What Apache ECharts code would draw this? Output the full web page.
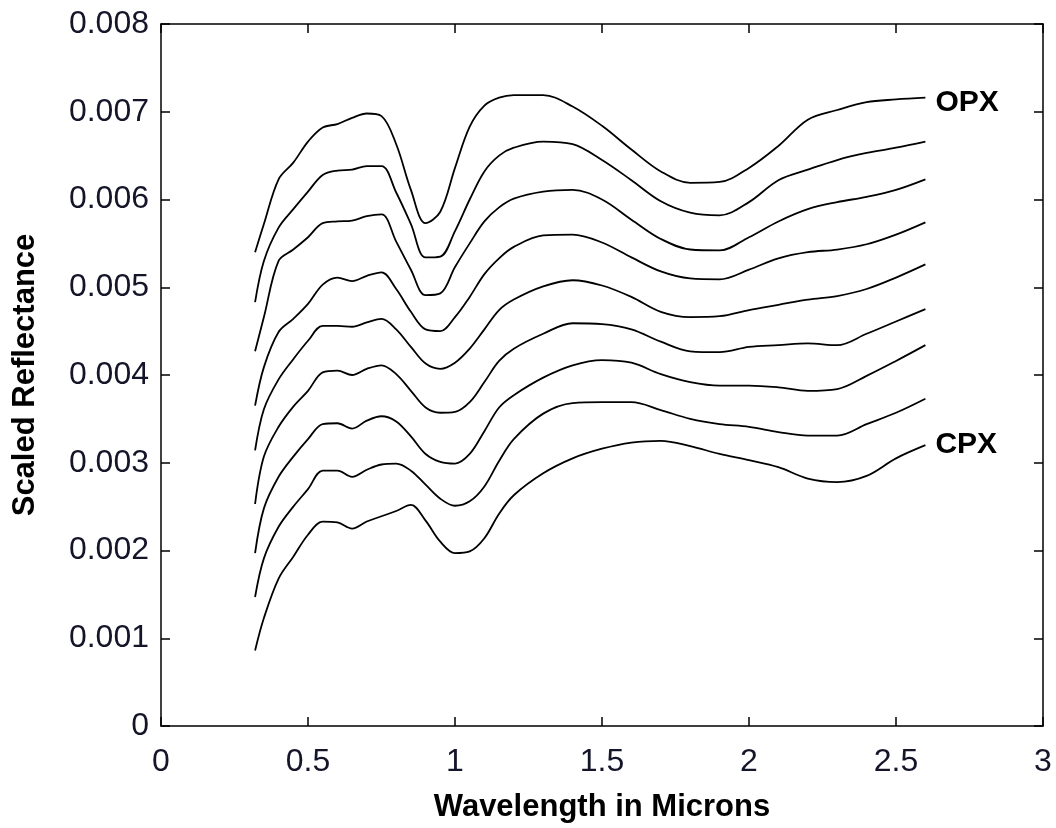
<!DOCTYPE html>
<html>
<head>
<meta charset="utf-8">
<script src="https://cdn.jsdelivr.net/npm/echarts@6/dist/echarts.min.js"></script>
<style>
html,body{margin:0;padding:0;background:#fff;}
#chart{width:1056px;height:828px;}
</style>
</head>
<body>
<div id="chart"></div>
<script>
// Wavelength in microns (shared x grid)
const wavelengths = [0.32,0.35,0.4,0.45,0.5,0.55,0.6,0.65,0.7,0.75,0.8,0.85,0.9,0.95,1.0,1.05,1.1,1.15,1.2,1.3,1.4,1.5,1.6,1.7,1.8,1.9,2.0,2.1,2.2,2.3,2.4,2.5,2.6];

// Scaled reflectance (x 0.001), top (OPX) to bottom (CPX)
const curve1 = [5.40,5.72,6.23,6.42,6.66,6.82,6.86,6.93,6.98,6.95,6.63,6.11,5.73,5.86,6.36,6.83,7.07,7.16,7.19,7.19,7.06,6.84,6.57,6.32,6.19,6.20,6.36,6.61,6.91,7.02,7.11,7.14,7.16];
const curve2 = [4.83,5.30,5.68,5.89,6.09,6.28,6.33,6.34,6.38,6.38,6.08,5.72,5.34,5.35,5.64,6.00,6.32,6.50,6.59,6.66,6.63,6.45,6.22,5.98,5.85,5.82,5.97,6.22,6.34,6.45,6.53,6.59,6.66];
const curve3 = [4.27,4.66,5.30,5.43,5.57,5.73,5.75,5.76,5.81,5.83,5.52,5.20,4.91,4.93,5.23,5.50,5.75,5.91,6.01,6.09,6.11,6.00,5.77,5.55,5.43,5.42,5.57,5.75,5.89,5.97,6.03,6.11,6.23];
const curve4 = [3.65,4.09,4.49,4.64,4.81,5.03,5.11,5.07,5.13,5.17,4.98,4.72,4.52,4.50,4.66,4.89,5.15,5.33,5.46,5.59,5.60,5.51,5.34,5.18,5.10,5.09,5.20,5.33,5.40,5.43,5.49,5.60,5.74];
const curve5 = [3.14,3.61,3.95,4.18,4.39,4.56,4.56,4.55,4.60,4.64,4.52,4.32,4.13,4.07,4.14,4.30,4.52,4.74,4.86,5.01,5.08,5.02,4.89,4.72,4.66,4.67,4.74,4.80,4.86,4.90,4.98,5.11,5.26];
const curve6 = [2.53,3.07,3.41,3.64,3.82,4.03,4.05,4.00,4.07,4.11,4.01,3.82,3.63,3.57,3.58,3.69,3.92,4.16,4.30,4.47,4.59,4.58,4.52,4.38,4.27,4.26,4.32,4.34,4.36,4.34,4.47,4.61,4.75];
const curve7 = [1.97,2.48,2.84,3.07,3.27,3.44,3.45,3.39,3.48,3.53,3.47,3.30,3.10,3.01,2.99,3.10,3.36,3.63,3.77,3.97,4.11,4.17,4.14,4.01,3.92,3.88,3.88,3.86,3.82,3.84,3.99,4.16,4.34];
const curve8 = [1.47,1.91,2.27,2.50,2.70,2.91,2.91,2.84,2.92,2.98,2.99,2.91,2.75,2.59,2.51,2.56,2.73,3.02,3.27,3.56,3.68,3.69,3.69,3.60,3.50,3.44,3.41,3.35,3.31,3.31,3.44,3.57,3.73];
const curve9 = [0.86,1.23,1.68,1.93,2.18,2.33,2.32,2.25,2.33,2.39,2.45,2.52,2.34,2.10,1.97,1.99,2.14,2.42,2.63,2.88,3.05,3.16,3.23,3.25,3.19,3.10,3.03,2.95,2.82,2.78,2.85,3.05,3.20];

const curves = [curve1,curve2,curve3,curve4,curve5,curve6,curve7,curve8,curve9];
const endLabels = ['OPX','','','','','','','','CPX'];

const xTicks = [0,0.5,1,1.5,2,2.5,3];
const yTicks = [0,0.001,0.002,0.003,0.004,0.005,0.006,0.007,0.008];

const xName = 'Wavelength in Microns';
const yName = 'Scaled Reflectance';

const FONT = 'Liberation Sans, Arial, sans-serif';
const chart = echarts.init(document.getElementById('chart'));

const series = curves.map((c, i) => ({
  type: 'line',
  xAxisIndex: 0,
  yAxisIndex: 0,
  data: wavelengths.map((w, j) => [w, c[j] / 1000]),
  smooth: 0.35,
  showSymbol: false,
  symbol: 'none',
  lineStyle: { color: '#000', width: 1.8 },
  silent: true,
  animation: false,
  endLabel: endLabels[i] ? {
    show: true,
    formatter: endLabels[i],
    fontFamily: FONT,
    fontWeight: 'bold',
    fontSize: 30,
    color: '#000',
    distance: 10,
    offset: [0, i === 0 ? 5 : 0]
  } : { show: false }
}));

const labelFont = { fontFamily: FONT, fontSize: 32, color: '#15152a' };
const lineSt = { color: '#000', width: 1.5 };

chart.setOption({
  animation: false,
  backgroundColor: '#fff',
  grid: { left: 161, right: 13, top: 24, bottom: 100, containLabel: false },
  xAxis: [{
    type: 'value', min: 0, max: 3, interval: 0.5,
    name: xName, nameLocation: 'middle', nameGap: 66,
    nameTextStyle: { fontFamily: FONT, fontWeight: 'bold', fontSize: 31, color: '#000' },
    axisLine: { show: true, onZero: false, lineStyle: lineSt },
    axisTick: { show: true, inside: true, length: 9, lineStyle: lineSt },
    axisLabel: Object.assign({ margin: 20, formatter: v => String(v) }, labelFont),
    splitLine: { show: false }
  }, {
    type: 'value', min: 0, max: 3, interval: 0.5, position: 'top',
    axisLine: { show: true, onZero: false, lineStyle: lineSt },
    axisTick: { show: true, inside: true, length: 9, lineStyle: lineSt },
    axisLabel: { show: false },
    splitLine: { show: false }
  }],
  yAxis: [{
    type: 'value', min: 0, max: 0.008, interval: 0.001,
    name: yName, nameLocation: 'middle', nameGap: 120,
    nameTextStyle: { fontFamily: FONT, fontWeight: 'bold', fontSize: 31, color: '#000' },
    axisLine: { show: true, onZero: false, lineStyle: lineSt },
    axisTick: { show: true, inside: true, length: 9, lineStyle: lineSt },
    axisLabel: Object.assign({ margin: 12, formatter: v => v === 0 ? '0' : v.toFixed(3) }, labelFont),
    splitLine: { show: false }
  }, {
    type: 'value', min: 0, max: 0.008, interval: 0.001, position: 'right',
    axisLine: { show: true, onZero: false, lineStyle: lineSt },
    axisTick: { show: true, inside: true, length: 9, lineStyle: lineSt },
    axisLabel: { show: false },
    splitLine: { show: false }
  }],
  series: series
});
</script>
</body>
</html>
